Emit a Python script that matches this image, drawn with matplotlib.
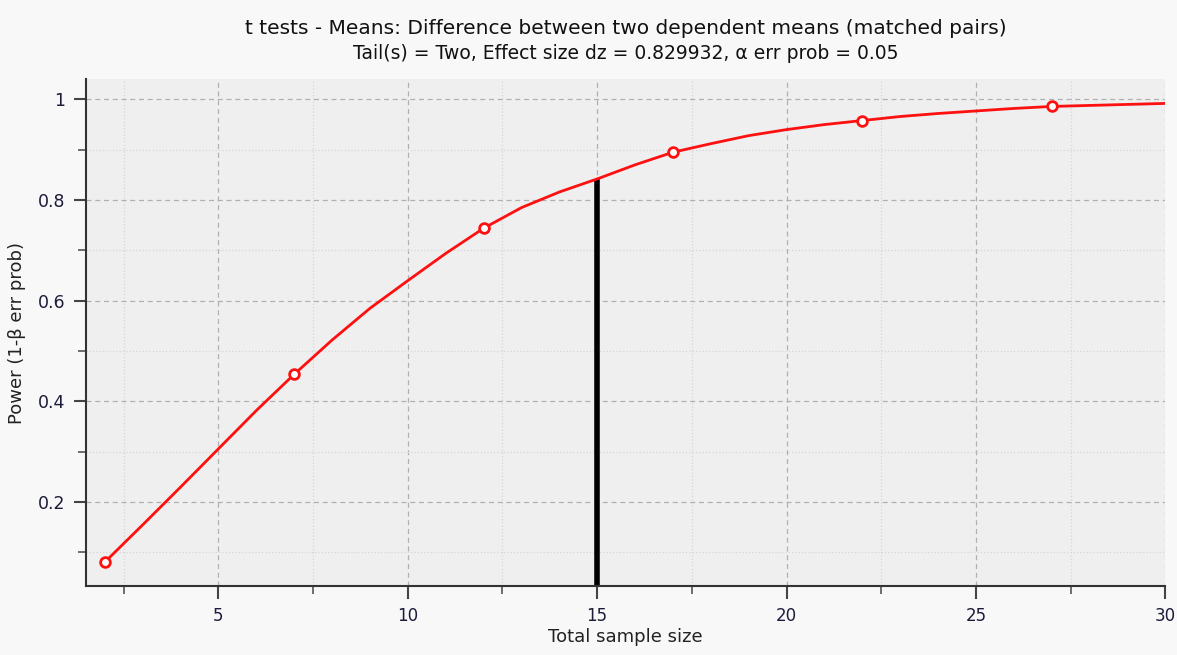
import matplotlib
matplotlib.use("Agg")
import matplotlib.pyplot as plt
from matplotlib.ticker import MultipleLocator

# power curve (total sample size -> power)
sample_size = list(range(2, 31))
power = [0.081, 0.155, 0.230, 0.306, 0.382, 0.454, 0.522, 0.585, 0.640, 0.694,
         0.744, 0.785, 0.816, 0.842, 0.870, 0.895, 0.912, 0.928, 0.940, 0.950,
         0.958, 0.966, 0.972, 0.977, 0.982, 0.986, 0.988, 0.990, 0.992]
marker_n = [2, 7, 12, 17, 22, 27]
chosen_n = 15

title = "t tests - Means: Difference between two dependent means (matched pairs)"
subtitle = "Tail(s) = Two, Effect size dz = 0.829932, \u03b1 err prob = 0.05"

plt.rcParams["font.family"] = ["DejaVu Sans"]

fig = plt.figure(figsize=(11.77, 6.55), dpi=100, facecolor="#f8f8f8")
ax_rect = [0.073, 0.105, 0.917, 0.774]
ax = fig.add_axes(ax_rect)
ax.set_facecolor("#efefef")

ax.plot(sample_size, power, color="#ff1010", lw=2, zorder=3)
mk_y = [power[sample_size.index(n)] for n in marker_n]
ax.plot(marker_n, mk_y, ls="none", marker="o", ms=7, mfc="white",
        mec="#ff1010", mew=2, zorder=4)

chosen_power = power[sample_size.index(chosen_n)]
ax.vlines(chosen_n, 0.033, chosen_power, color="black", lw=4, zorder=2)

ax.set_xlim(1.5, 30)
ax.set_ylim(0.033, 1.04)
ax.xaxis.set_major_locator(MultipleLocator(5))
ax.xaxis.set_minor_locator(MultipleLocator(2.5))
ax.yaxis.set_major_locator(MultipleLocator(0.2))
ax.yaxis.set_minor_locator(MultipleLocator(0.1))
ax.set_yticks([0.2, 0.4, 0.6, 0.8, 1.0])
ax.set_yticklabels(["0.2", "0.4", "0.6", "0.8", "1"])

ax.grid(which="major", color="#b0b0b0", ls=(0, (4, 3)), lw=0.9)
ax.grid(which="minor", color="#d6d6d6", ls=":", lw=0.9)
ax.set_axisbelow(True)

for s in ("top", "right"):
    ax.spines[s].set_visible(False)
for s in ("left", "bottom"):
    ax.spines[s].set_color("#333333")
    ax.spines[s].set_linewidth(1.5)

ax.tick_params(which="major", length=9, width=1.5, color="#444444",
               labelcolor="#1c1c3a", pad=6)
ax.tick_params(axis="y", labelsize=12.5)
ax.tick_params(axis="x", labelsize=12)
ax.tick_params(which="minor", length=6, width=1.2, color="#555555")

ax.set_xlabel("Total sample size", fontsize=13, color="#222222", labelpad=2)
ax.set_ylabel("Power (1-\u03b2 err prob)", fontsize=13, color="#222222", labelpad=8)

# titles are centred over the plot area, not the whole figure
cx = ax_rect[0] + ax_rect[2] / 2
fig.text(cx, 0.957, title, ha="center", va="center", fontsize=14.5, color="#111111")
fig.text(cx, 0.918, subtitle, ha="center", va="center", fontsize=13.5, color="#111111")

fig.savefig("out.png", dpi=100, facecolor=fig.get_facecolor())
